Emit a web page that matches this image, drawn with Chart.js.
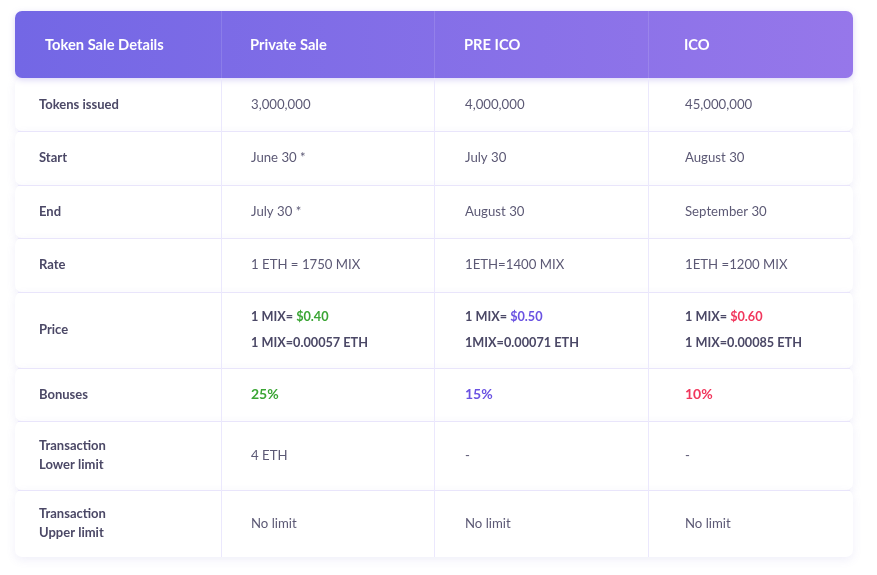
<!DOCTYPE html>
<html>
<head>
<meta charset="utf-8">
<script src="https://cdn.jsdelivr.net/npm/chart.js@4/dist/chart.umd.min.js"></script>
<style>
  body { margin: 0; background: #ffffff; }
</style>
</head>
<body>
<canvas id="saleTable" width="877" height="575"></canvas>
<script>
// Table content
var columns = ['Token Sale Details', 'Private Sale', 'PRE ICO', 'ICO'];
var rowLabels = [['Tokens issued'], ['Start'], ['End'], ['Rate'], ['Price'], ['Bonuses'],
  ['Transaction', 'Lower limit'], ['Transaction', 'Upper limit']];
var privateSale = ['3,000,000', 'June 30 *', 'July 30 *', '1 ETH = 1750 MIX', null, null, '4 ETH', 'No limit'];
var preIco = ['4,000,000', 'July 30', 'August 30', '1ETH=1400 MIX', null, null, '-', 'No limit'];
var ico = ['45,000,000', 'August 30', 'September 30', '1ETH =1200 MIX', null, null, '-', 'No limit'];
var pricePrefix = ['1 MIX= ', '1 MIX= ', '1 MIX= '];
var priceUsd = ['$0.40', '$0.50', '$0.60'];
var priceEth = ['1 MIX=0.00057 ETH', '1MIX=0.00071 ETH', '1 MIX=0.00085 ETH'];
var bonuses = ['25%', '15%', '10%'];

// Layout (scale units) and styles
var colEdges = [0, 206, 419, 633, 838];
var rowEdges = [0, 67, 120, 174, 227, 281, 357, 410, 479, 546];
var headInset = [30, 29, 30, 36];
var textInset = [24, 30, 31, 37];
var stageColors = ['#3aa534', '#6a52e2', '#f1365c'];
var FONT = 'Lato, "Open Sans", sans-serif';

var stages = [privateSale, preIco, ico];

/**
 * Plugin that paints the table cells through the chart scales
 */
var tablePlugin = {
  id: 'tablePlugin',
  beforeDatasetsDraw: function (chart) {
    var ctx = chart.ctx;
    var xs = chart.scales.x;
    var ys = chart.scales.y;
    var left = xs.getPixelForValue(colEdges[0]);
    var right = xs.getPixelForValue(colEdges[colEdges.length - 1]);
    var r, c;

    // row cards
    for (r = 1; r < rowEdges.length - 1; r++) {
      var top = ys.getPixelForValue(rowEdges[r]);
      var bot = ys.getPixelForValue(rowEdges[r + 1]);
      ctx.save();
      ctx.shadowColor = 'rgba(110, 95, 200, 0.10)';
      ctx.shadowBlur = 10;
      ctx.shadowOffsetY = 3;
      ctx.fillStyle = '#ffffff';
      ctx.beginPath();
      ctx.roundRect(left, top, right - left, bot - top, 7);
      ctx.fill();
      ctx.restore();
    }

    // row separators
    ctx.save();
    ctx.strokeStyle = '#e9e5fb';
    ctx.lineWidth = 1;
    for (r = 2; r < rowEdges.length - 1; r++) {
      var yy = Math.round(ys.getPixelForValue(rowEdges[r])) + 0.5;
      ctx.beginPath();
      ctx.moveTo(left + 3, yy);
      ctx.lineTo(right - 3, yy);
      ctx.stroke();
    }
    ctx.restore();

    // header
    var hTop = ys.getPixelForValue(rowEdges[0]);
    var hBot = ys.getPixelForValue(rowEdges[1]);
    var grad = ctx.createLinearGradient(left, 0, right, 0);
    grad.addColorStop(0, '#7367e5');
    grad.addColorStop(1, '#9677ea');
    ctx.save();
    ctx.shadowColor = 'rgba(110, 90, 220, 0.25)';
    ctx.shadowBlur = 6;
    ctx.shadowOffsetY = 2;
    ctx.fillStyle = grad;
    ctx.beginPath();
    ctx.roundRect(left, hTop, right - left, hBot - hTop, 7);
    ctx.fill();
    ctx.restore();

    // column dividers
    var bodyBot = ys.getPixelForValue(rowEdges[rowEdges.length - 1]);
    ctx.save();
    ctx.lineWidth = 1;
    for (c = 1; c < colEdges.length - 1; c++) {
      var xx = Math.round(xs.getPixelForValue(colEdges[c])) + 0.5;
      ctx.strokeStyle = 'rgba(255, 255, 255, 0.12)';
      ctx.beginPath();
      ctx.moveTo(xx, hTop);
      ctx.lineTo(xx, hBot);
      ctx.stroke();
      ctx.strokeStyle = '#ebe8fd';
      ctx.beginPath();
      ctx.moveTo(xx, hBot);
      ctx.lineTo(xx, bodyBot);
      ctx.stroke();
    }
    ctx.restore();

    // header text
    ctx.save();
    ctx.textBaseline = 'middle';
    ctx.fillStyle = '#ffffff';
    ctx.font = 'bold 14.7px ' + FONT;
    var hMid = ys.getPixelForValue((rowEdges[0] + rowEdges[1]) / 2);
    for (c = 0; c < columns.length; c++) {
      ctx.fillText(columns[c], xs.getPixelForValue(colEdges[c] + headInset[c]), hMid + 1);
    }

    // body text
    for (r = 0; r < rowLabels.length; r++) {
      var mid = ys.getPixelForValue((rowEdges[r + 1] + rowEdges[r + 2]) / 2);
      var lines = rowLabels[r];
      var lh = lines.length > 1 ? 19 : 0;
      ctx.font = 'bold 13px ' + FONT;
      ctx.fillStyle = '#4b4866';
      for (var k = 0; k < lines.length; k++) {
        ctx.fillText(lines[k], xs.getPixelForValue(colEdges[0] + textInset[0]),
          mid + (k - (lines.length - 1) / 2) * lh);
      }
      for (var s = 0; s < stages.length; s++) {
        var tx = xs.getPixelForValue(colEdges[s + 1] + textInset[s + 1]);
        if (rowLabels[r][0] === 'Price') {
          ctx.font = 'bold 12.7px ' + FONT;
          ctx.fillStyle = '#4b4866';
          ctx.fillText(pricePrefix[s], tx, mid - 13);
          var w = ctx.measureText(pricePrefix[s]).width;
          ctx.fillStyle = stageColors[s];
          ctx.fillText(priceUsd[s], tx + w, mid - 13);
          ctx.fillStyle = '#4b4866';
          ctx.fillText(priceEth[s], tx, mid + 13);
        } else if (rowLabels[r][0] === 'Bonuses') {
          ctx.font = 'bold 14px ' + FONT;
          ctx.fillStyle = stageColors[s];
          ctx.fillText(bonuses[s], tx, mid);
        } else {
          ctx.font = '13.2px ' + FONT;
          ctx.fillStyle = '#5c5975';
          ctx.fillText(stages[s][r], tx, mid);
        }
      }
    }
    ctx.restore();
  }
};

var chart = new Chart(document.getElementById('saleTable'), {
  type: 'scatter',
  data: {
    datasets: [{
      data: [],
      pointRadius: 0
    }]
  },
  options: {
    responsive: false,
    animation: false,
    layout: { padding: { left: 15, right: 24, top: 11, bottom: 18 } },
    plugins: { legend: { display: false }, tooltip: { enabled: false } },
    scales: {
      x: { type: 'linear', display: false, min: colEdges[0], max: colEdges[colEdges.length - 1] },
      y: { type: 'linear', display: false, reverse: true, min: rowEdges[0], max: rowEdges[rowEdges.length - 1] }
    }
  },
  plugins: [tablePlugin]
});
</script>
</body>
</html>
